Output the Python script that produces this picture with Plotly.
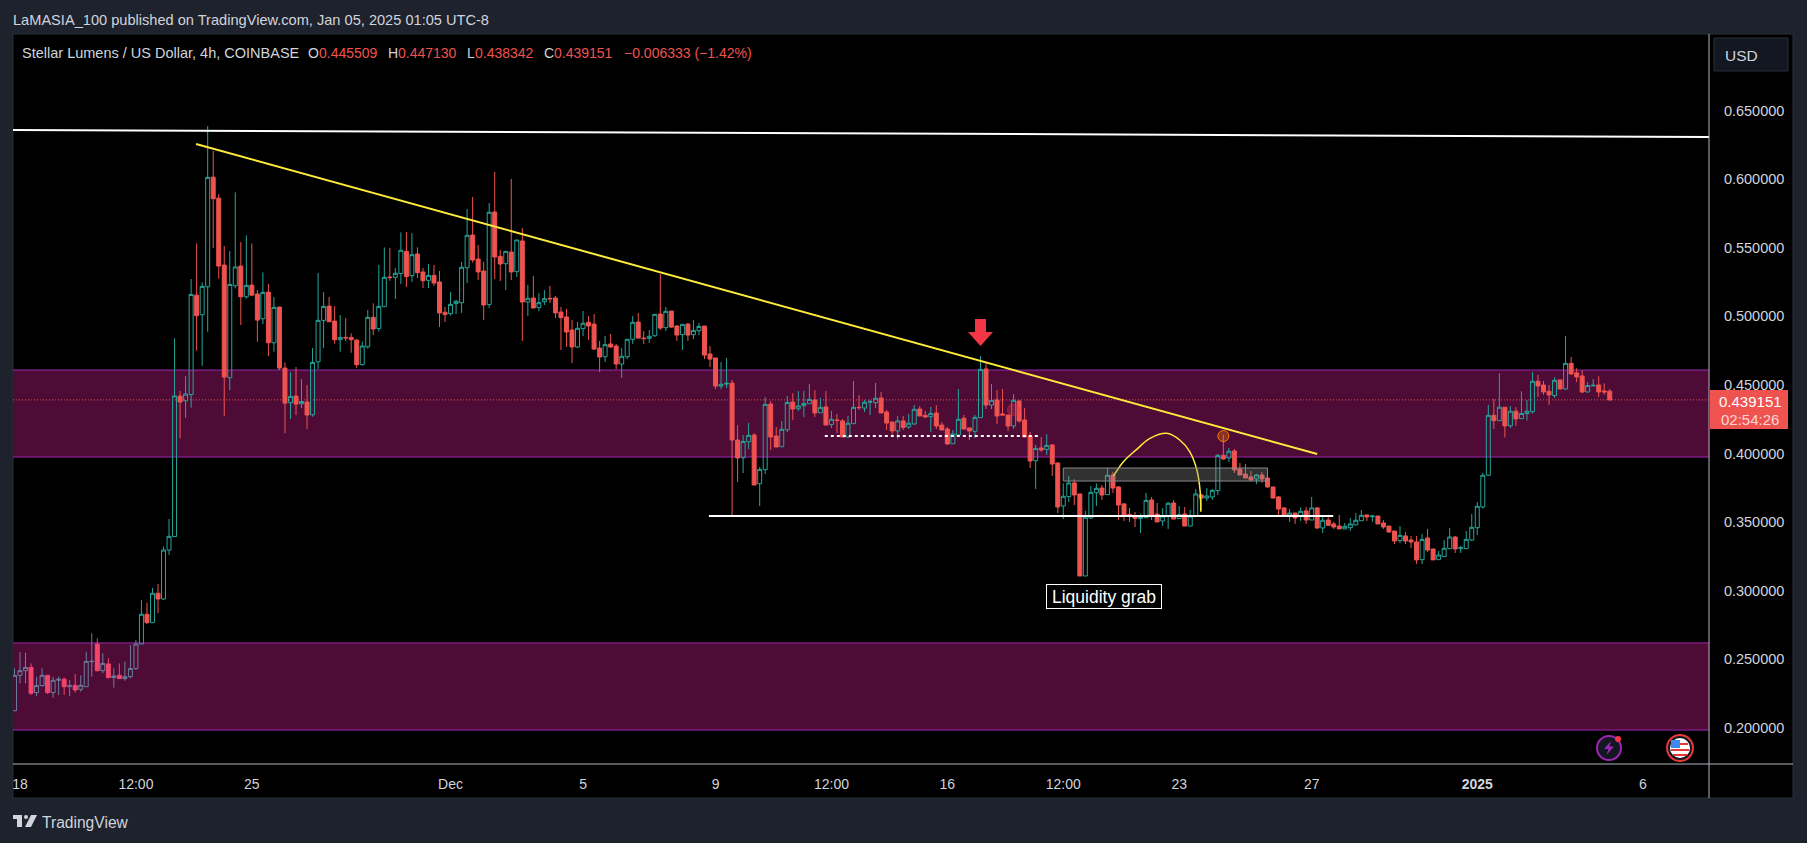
import plotly.graph_objects as go

# bar 0 is the Nov 18 00:00 candle, one bar = 4h
first_bar = -1

opens = [
    .2126,.2384,.2418,.2442,.2258,.2309,.2384,.2258,.2348,.2355,
    .2301,.2311,.2282,.2301,.2484,.2612,.2418,.2467,.2367,.2384,
    .2360,.2374,.2433,.2612,.2829,.2768,.2982,.2940,.3297,.3395,
    .4419,.4385,.4431,.5155,.5012,.5216,.6015,.5862,.5374,.4553,
    .5223,.5367,.5143,.5228,.5163,.4983,.5177,.4808,.5068,.4623,
    .4371,.4419,.4363,.4376,.4283,.4669,.4971,.5075,.4966,.4830,
    .4847,.4847,.4827,.4648,.4779,.4993,.4911,.5071,.5287,.5285,
    .5312,.5474,.5297,.5455,.5324,.5263,.5299,.5251,.5030,.5020,
    .5093,.5100,.5355,.5593,.5418,.5331,.5086,.5761,.5438,.5384,
    .5469,.5326,.5550,.5105,.5134,.5064,.5107,.5132,.5134,.5032,
    .4996,.4901,.4777,.4911,.4957,.4944,.4769,.4706,.4799,.4784,
    .4653,.4706,.4833,.4959,.4842,.4840,.4859,.5017,.4918,.5039,
    .4930,.4867,.4944,.4867,.4896,.4930,.4726,.4697,.4492,.4507,
    .4514,.4099,.3970,.4087,.4135,.3781,.3883,.4361,.4128,.4050,
    .4174,.4376,.4327,.4349,.4364,.4391,.4298,.4340,.4211,.4245,
    .4238,.4121,.4218,.4338,.4332,.4375,.4371,.4405,.4303,.4230,
    .4165,.4238,.4194,.4216,.4325,.4279,.4269,.4296,.4208,.4179,
    .4072,.4136,.4257,.4187,.4162,.4262,.4617,.4354,.4391,.4289,
    .4281,.4201,.4383,.4245,.4128,.3948,.4041,.4031,.4063,.3932,
    .3618,.3686,.3786,.3706,.3108,.3531,.3715,.3749,.3701,.3844,
    .3757,.3633,.3557,.3545,.3526,.3533,.3662,.3560,.3509,.3545,
    .3640,.3526,.3560,.3472,.3545,.3698,.3676,.3684,.3730,.3987,
    .3968,.4019,.3888,.3851,.3830,.3815,.3844,.3822,.3757,.3684,
    .3604,.3553,.3567,.3545,.3582,.3516,.3604,.3458,.3516,.3487,
    .3472,.3451,.3460,.3480,.3511,.3553,.3540,.3545,.3494,.3472,
    .3436,.3366,.3400,.3370,.3356,.3227,.3385,.3305,.3227,.3249,
    .3307,.3392,.3307,.3307,.3370,.3460,.3611,.3842,.4279,.4240,
    .4338,.4202,.4309,.4255,.4292,.4306,.4527,.4500,.4454,.4423,
    .4537,.4471,.4658,.4588,.4566,.4449,.4493,.4500,.4457,.445509,
]
highs = [
    .2435,.2554,.2549,.2471,.2374,.2435,.2384,.2374,.2374,.2369,
    .2350,.2394,.2384,.2556,.2690,.2654,.2544,.2508,.2435,.2471,
    .2484,.2605,.2642,.2933,.2914,.3021,.3050,.3322,.3523,.4840,
    .4456,.4565,.5272,.5532,.5248,.6387,.6207,.5892,.5513,.5476,
    .5904,.5542,.5590,.5532,.5192,.5321,.5236,.5141,.5068,.4665,
    .4594,.4631,.4543,.4499,.4769,.5316,.5177,.5141,.5075,.5010,
    .4988,.4876,.4835,.4816,.5047,.5095,.5375,.5503,.5499,.5353,
    .5613,.5615,.5606,.5503,.5353,.5382,.5375,.5331,.5069,.5178,
    .5120,.5397,.5783,.5870,.5520,.5397,.5827,.6053,.5484,.5474,
    .6002,.5557,.5644,.5229,.5295,.5168,.5192,.5222,.5149,.5069,
    .5054,.4974,.4959,.5039,.5003,.5017,.4821,.4857,.4872,.4799,
    .4769,.4833,.5003,.5025,.4893,.4901,.5015,.5309,.5068,.5039,
    .4937,.4942,.4952,.4974,.4952,.4930,.4784,.4697,.4667,.4697,
    .4536,.4208,.4135,.4223,.4150,.3902,.4412,.4383,.4194,.4237,
    .4420,.4441,.4456,.4456,.4507,.4463,.4405,.4456,.4311,.4289,
    .4252,.4274,.4529,.4427,.4391,.4391,.4515,.4449,.4318,.4230,
    .4274,.4274,.4289,.4354,.4347,.4311,.4340,.4354,.4230,.4194,
    .4172,.4471,.4281,.4187,.4281,.4711,.4658,.4507,.4464,.4471,
    .4281,.4434,.4391,.4332,.4157,.4063,.4121,.4143,.4070,.3932,
    .3783,.3837,.3813,.3706,.3582,.3764,.3783,.3771,.3895,.3866,
    .3764,.3640,.3604,.3574,.3560,.3713,.3684,.3640,.3604,.3647,
    .3662,.3618,.3611,.3589,.3742,.3706,.3749,.3742,.3997,.4138,
    .4041,.4034,.3932,.3924,.3873,.3851,.3866,.3856,.3757,.3691,
    .3611,.3596,.3567,.3608,.3611,.3684,.3611,.3545,.3538,.3502,
    .3553,.3494,.3531,.3567,.3589,.3553,.3553,.3545,.3516,.3472,
    .3436,.3472,.3429,.3400,.3400,.3414,.3451,.3305,.3290,.3370,
    .3458,.3400,.3327,.3436,.3560,.3647,.3859,.4355,.4398,.4586,
    .4338,.4347,.4338,.4454,.4391,.4595,.4573,.4530,.4500,.4556,
    .4537,.4858,.4705,.4622,.4607,.4522,.4544,.4564,.4513,.447130,
]
lows = [
    .2126,.2326,.2326,.2241,.2233,.2301,.2248,.2221,.2241,.2241,
    .2233,.2258,.2265,.2301,.2374,.2411,.2399,.2362,.2294,.2360,
    .2345,.2362,.2423,.2612,.2758,.2768,.2836,.2933,.3261,.3395,
    .4111,.4261,.4334,.4750,.4640,.4888,.5498,.5275,.4274,.4463,
    .5204,.4937,.5129,.5148,.4815,.4944,.4711,.4743,.4609,.4148,
    .4252,.4281,.4332,.4179,.4269,.4616,.4769,.4959,.4801,.4743,
    .4820,.4735,.4623,.4643,.4765,.4864,.4889,.5071,.5260,.5127,
    .5236,.5214,.5251,.5280,.5207,.5207,.5222,.4923,.4959,.5005,
    .5018,.5025,.5243,.5392,.5265,.4974,.5061,.5273,.5258,.5192,
    .5265,.5287,.4821,.5003,.5061,.5039,.5083,.5098,.4988,.4755,
    .4777,.4660,.4770,.4857,.4828,.4755,.4595,.4667,.4769,.4616,
    .4551,.4689,.4799,.4842,.4799,.4806,.4850,.4901,.4893,.4915,
    .4821,.4755,.4821,.4835,.4864,.4689,.4631,.4471,.4471,.4478,
    .3552,.3793,.3858,.4033,.3771,.3618,.3851,.4026,.4048,.4050,
    .4157,.4245,.4310,.4267,.4362,.4267,.4298,.4208,.4187,.4150,
    .4121,.4114,.4218,.4318,.4303,.4281,.4332,.4296,.4172,.4136,
    .4106,.4172,.4179,.4208,.4274,.4259,.4157,.4179,.4172,.4063,
    .4072,.4136,.4179,.4099,.4114,.4262,.4325,.4325,.4216,.4281,
    .4165,.4179,.4223,.4121,.3895,.3742,.4012,.3990,.3837,.3567,
    .3523,.3647,.3625,.3108,.3108,.3523,.3618,.3662,.3701,.3713,
    .3516,.3509,.3502,.3465,.3421,.3533,.3516,.3502,.3472,.3451,
    .3523,.3526,.3472,.3472,.3545,.3589,.3655,.3662,.3698,.3953,
    .3939,.3859,.3844,.3822,.3800,.3779,.3786,.3749,.3676,.3553,
    .3553,.3502,.3487,.3509,.3487,.3516,.3451,.3421,.3477,.3451,
    .3451,.3451,.3436,.3480,.3511,.3509,.3502,.3487,.3451,.3421,
    .3341,.3348,.3341,.3312,.3195,.3195,.3283,.3225,.3227,.3249,
    .3307,.3276,.3276,.3307,.3363,.3407,.3599,.3840,.4180,.4240,
    .4117,.4187,.4202,.4255,.4240,.4292,.4413,.4428,.4355,.4406,
    .4469,.4466,.4573,.4522,.4442,.4449,.4493,.4413,.4428,.438342,
]
closes = [
    .2384,.2418,.2442,.2253,.2309,.2384,.2258,.2348,.2355,.2301,
    .2309,.2277,.2311,.2486,.2486,.2418,.2471,.2367,.2379,.2360,
    .2374,.2433,.2612,.2829,.2768,.2982,.2940,.3297,.3397,.4420,
    .4376,.4434,.5160,.5005,.5219,.6013,.5858,.5367,.4558,.5233,
    .5360,.5143,.5226,.5155,.4973,.5175,.4808,.5066,.4623,.4368,
    .4417,.4361,.4380,.4281,.4665,.4971,.5073,.4961,.4830,.4847,
    .4843,.4830,.4648,.4784,.4993,.4908,.5073,.5285,.5283,.5314,
    .5482,.5290,.5450,.5319,.5260,.5299,.5243,.5025,.5013,.5088,
    .5110,.5358,.5591,.5411,.5324,.5083,.5759,.5433,.5382,.5474,
    .5324,.5557,.5105,.5132,.5061,.5100,.5129,.5128,.5025,.4991,
    .4886,.4777,.4913,.4950,.4930,.4762,.4704,.4794,.4777,.4653,
    .4709,.4833,.4957,.4842,.4838,.4855,.5015,.4915,.5037,.4922,
    .4864,.4942,.4864,.4898,.4927,.4718,.4689,.4492,.4505,.4512,
    .4099,.3968,.4089,.4133,.3771,.3885,.4359,.4121,.4048,.4177,
    .4373,.4325,.4347,.4366,.4395,.4296,.4337,.4208,.4250,.4241,
    .4121,.4221,.4337,.4335,.4374,.4378,.4403,.4296,.4223,.4165,
    .4238,.4191,.4221,.4323,.4274,.4267,.4293,.4201,.4172,.4070,
    .4143,.4250,.4179,.4165,.4264,.4614,.4354,.4388,.4274,.4281,
    .4201,.4388,.4238,.4121,.3946,.4038,.4026,.4060,.3924,.3611,
    .3689,.3786,.3698,.3108,.3536,.3718,.3747,.3698,.3842,.3749,
    .3625,.3545,.3545,.3528,.3536,.3659,.3545,.3502,.3545,.3638,
    .3523,.3555,.3472,.3545,.3706,.3676,.3691,.3732,.3987,.3961,
    .4017,.3881,.3844,.3822,.3808,.3844,.3815,.3757,.3676,.3596,
    .3553,.3567,.3531,.3579,.3516,.3604,.3458,.3514,.3477,.3465,
    .3451,.3470,.3487,.3514,.3550,.3538,.3545,.3487,.3465,.3429,
    .3363,.3404,.3363,.3356,.3225,.3375,.3297,.3225,.3261,.3310,
    .3392,.3305,.3314,.3375,.3463,.3616,.3842,.4279,.4240,.4338,
    .4202,.4309,.4253,.4292,.4309,.4527,.4493,.4449,.4428,.4534,
    .4471,.4658,.4581,.4559,.4449,.4496,.4498,.4449,.4449,.439151,
]
bars = list(range(first_bar, first_bar + len(closes)))

tick_bars = [0, 21, 42, 78, 102, 126, 147, 168, 189, 210, 234, 264, 294]
tick_text = ["18", "12:00", "25", "Dec", "5", "9", "12:00", "16", "12:00", "23", "27", "<b>2025</b>", "6"]
price_ticks = [0.20, 0.25, 0.30, 0.35, 0.40, 0.45, 0.50, 0.55, 0.60, 0.65]
price_text = ["%.6f" % p for p in price_ticks]

upper_zone = (0.3975, 0.4609)
lower_zone = (0.1985, 0.2620)
last_price = 0.439151
top_line = ([-1.3, 306], [0.6359, 0.6308])
trend_line = ([31.9, 235], [0.6257, 0.3997])
support_line = ([124.8, 237.9], [0.3545, 0.3545])
dotted_line = ([145.8, 184.4], [0.4128, 0.4128])
gray_box = ([189, 226], [0.3800, 0.3895])
arc_x = [198.1, 199.9, 202.3, 204.7, 207.7, 210.1, 211.9, 213.2, 213.8, 213.9]
arc_y = [0.3837, 0.3941, 0.4031, 0.4111, 0.4148, 0.4099, 0.4014, 0.3881, 0.3723, 0.3577]

UP = "#26a69a"
DOWN = "#ef5350"
BG = "#1e222d"
TXT = "#d1d4dc"
ZONE = "#4e0b36"
ZONE_EDGE = "#9c27b0"
FONT = "Liberation Sans"

# pixel layout of the TradingView frame
PL, PR, PT, PB = 13, 1709, 34, 764
FRAME_R, FRAME_B = 1793, 798


def px(x):
    return (x - PL) / (PR - PL)


def py(y):
    return (PB - y) / (PB - PT)


def paper_path(points):
    return "M " + " L ".join("%.5f,%.5f" % (px(a), py(b)) for a, b in points) + " Z"


def rect(x0, y0, x1, y1, fill, line=None, layer="above", width=1):
    return dict(type="rect", xref="paper", yref="paper", x0=px(x0), x1=px(x1), y0=py(y0), y1=py(y1),
                fillcolor=fill, line=dict(color=line or fill, width=width if line else 0), layer=layer)


def circle(cx, cy, r, fill, line=None, width=2):
    return dict(type="circle", xref="paper", yref="paper", x0=px(cx - r), x1=px(cx + r), y0=py(cy + r), y1=py(cy - r),
                fillcolor=fill, line=dict(color=line or fill, width=width if line else 0), layer="above")


def label(x, y, text, color=TXT, size=14, anchor="left"):
    # annotations carry about 2px of padding, xshift takes it back
    return dict(xref="paper", yref="paper", x=px(x), y=py(y), text=text, showarrow=False, xanchor=anchor,
                xshift=-2 if anchor == "left" else 0, yanchor="middle",
                font=dict(family=FONT, size=size, color=color))


def data_line(xs, ys, color, width, dash="solid", layer="above"):
    return dict(type="line", xref="x", yref="y", x0=xs[0], x1=xs[1], y0=ys[0], y1=ys[1],
                line=dict(color=color, width=width, dash=dash), layer=layer)


def zone(bottom, top):
    band = dict(type="rect", xref="paper", yref="y", x0=0, x1=1, y0=bottom, y1=top,
                fillcolor=ZONE, line=dict(width=0), layer="below")
    edges = [dict(type="line", xref="paper", yref="y", x0=0, x1=1, y0=v, y1=v,
                  line=dict(color=ZONE_EDGE, width=1), layer="below") for v in (bottom, top)]
    return [band] + edges


fig = go.Figure()

# the candles under the lower zone show through it in a washed colour
split = 23
fig.add_trace(go.Candlestick(
    x=bars[:split], open=opens[:split], high=highs[:split], low=lows[:split], close=closes[:split],
    increasing=dict(line=dict(color="#6b7f9e", width=1), fillcolor="rgba(0,0,0,0)"),
    decreasing=dict(line=dict(color="#f2456b", width=1), fillcolor="#f2456b"),
    whiskerwidth=0, showlegend=False, hoverinfo="skip",
))
fig.add_trace(go.Candlestick(
    x=bars[split:], open=opens[split:], high=highs[split:], low=lows[split:], close=closes[split:],
    increasing=dict(line=dict(color=UP, width=1), fillcolor="rgba(0,0,0,0)"),
    decreasing=dict(line=dict(color=DOWN, width=1), fillcolor=DOWN),
    whiskerwidth=0, showlegend=False, hoverinfo="skip",
))

# hand drawn arc
fig.add_trace(go.Scatter(x=arc_x, y=arc_y, mode="lines", line=dict(color="#ffeb3b", width=1.5, shape="spline"),
                         showlegend=False, hoverinfo="skip"))
# the two circle markers
fig.add_trace(go.Scatter(x=[180], y=[0.4318], mode="markers", showlegend=False, hoverinfo="skip",
                         marker=dict(size=12, color="rgba(242,54,69,0.3)", line=dict(color="rgba(242,54,69,0.5)", width=1))))
fig.add_trace(go.Scatter(x=[218], y=[0.4128], mode="markers", showlegend=False, hoverinfo="skip",
                         marker=dict(size=11, color="rgba(245,124,0,0.35)", line=dict(color="#f57c00", width=1))))

shapes = [
    # frame
    rect(PL, PT, FRAME_R, FRAME_B, "#000000", "#2a2e39", layer="below", width=1),
    *zone(*upper_zone),
    *zone(*lower_zone),
    dict(type="line", xref="paper", yref="y", x0=0, x1=1, y0=last_price, y1=last_price,
         line=dict(color=DOWN, width=1, dash="1px,2px"), layer="below"),
    # drawings
    data_line(*top_line, "#ffffff", 2),
    data_line(*trend_line, "#ffeb3b", 2),
    data_line(*support_line, "#ffffff", 2),
    data_line(*dotted_line, "#ffffff", 2, dash="dot"),
    dict(type="rect", xref="x", yref="y", x0=gray_box[0][0], x1=gray_box[0][1], y0=gray_box[1][0], y1=gray_box[1][1],
         fillcolor="rgba(140,140,140,0.35)", line=dict(color="#8a8a8a", width=1), layer="above"),
    # red arrow
    dict(type="path", xref="paper", yref="paper", fillcolor="#f23645", line=dict(width=0), layer="above",
         path=paper_path([(975, 319), (986, 319), (986, 332), (993, 332), (980.5, 346), (968, 332), (975, 332)])),
    # axis lines
    dict(type="line", xref="paper", yref="paper", x0=0, x1=px(FRAME_R), y0=0, y1=0,
         line=dict(color="#b2b5be", width=1), layer="above"),
    dict(type="line", xref="paper", yref="paper", x0=1, x1=1, y0=py(FRAME_B), y1=1,
         line=dict(color="#b2b5be", width=1), layer="above"),
    # USD box
    dict(type="rect", xref="paper", yref="paper", x0=px(1714), x1=px(1788), y0=py(71), y1=py(38),
         fillcolor="#131722", line=dict(color="#2a2e39", width=1), layer="above"),
    # price badge
    rect(1710, 390, 1788, 429, DOWN),
    # lightning icon
    circle(1609, 748, 12, "#131722", "#9c27b0"),
    dict(type="path", xref="paper", yref="paper", fillcolor="#9c27b0", line=dict(width=0), layer="above",
         path=paper_path([(1611, 741), (1604, 749), (1608.5, 749), (1606.5, 755), (1614, 746.5), (1609.5, 746.5)])),
    circle(1618, 739, 3, "#f23645"),
    # flag icon
    circle(1680, 748, 13, "#131722", "#e53935"),
    circle(1680, 748, 10, "#ffffff"),
    rect(1672, 743, 1688, 745, "#e53935"),
    rect(1671, 749, 1689, 751, "#e53935"),
    rect(1673, 754, 1687, 756, "#e53935"),
    rect(1671, 740, 1680, 748, "#3d8bf0"),
    # TradingView logo
    rect(13, 815, 22, 819, TXT),
    rect(17, 815, 22, 827, TXT),
    circle(26, 817, 2, TXT),
    dict(type="path", xref="paper", yref="paper", fillcolor=TXT, line=dict(width=0), layer="above",
         path=paper_path([(31, 815), (37, 815), (31, 827), (25, 827)])),
]

annotations = [
    label(13, 20, "LaMASIA_100 published on TradingView.com, Jan 05, 2025 01:05 UTC-8", size=14.6),
    label(22, 53, "Stellar Lumens / US Dollar, 4h, COINBASE", size=14.5),
    label(308, 53, "O"),
    label(319, 53, "0.445509", DOWN),
    label(388, 53, "H"),
    label(398, 53, "0.447130", DOWN),
    label(467, 53, "L"),
    label(475, 53, "0.438342", DOWN),
    label(544, 53, "C"),
    label(554, 53, "0.439151", DOWN),
    label(624, 53, "\u22120.006333 (\u22121.42%)", DOWN),
    label(1725, 55, "USD", size=15.5),
    label(1750, 401, "0.439151", "#ffffff", 15, "center"),
    label(1750, 419, "02:54:26", "#fbd5d4", 15, "center"),
    label(42, 822, "TradingView", size=15.6),
    dict(xref="x", yref="y", x=196.3, y=0.2955, text="Liquidity grab", showarrow=False, width=112, height=21,
         bgcolor="#000000", bordercolor="#ffffff", borderwidth=1, borderpad=1,
         font=dict(family=FONT, size=17.5, color="#ffffff")),
]

fig.update_layout(
    width=1807, height=843,
    margin=dict(l=PL, r=1807 - PR, t=PT, b=843 - PB, autoexpand=False),
    paper_bgcolor=BG, plot_bgcolor="rgba(0,0,0,0)",
    font=dict(family=FONT, color=TXT),
    boxgap=0.28, boxgroupgap=0, boxmode="overlay",
    showlegend=False,
    shapes=shapes, annotations=annotations,
    xaxis=dict(range=[-1.268, 305.98], rangeslider=dict(visible=False), showgrid=False, zeroline=False,
               tickmode="array", tickvals=tick_bars, ticktext=tick_text, ticks="outside", ticklen=7,
               tickcolor="rgba(0,0,0,0)", tickfont=dict(size=14, color=TXT), showline=False),
    yaxis=dict(range=[0.17376, 0.70583], side="right", showgrid=False, zeroline=False, showline=False,
               tickmode="array", tickvals=price_ticks, ticktext=price_text, ticks="outside", ticklen=11,
               tickcolor="rgba(0,0,0,0)", tickfont=dict(size=14.5, color=TXT)),
)

fig.write_html("out.html", config=dict(displayModeBar=False),
               post_script="document.body.style.margin='0';document.body.style.background='#1e222d';")
